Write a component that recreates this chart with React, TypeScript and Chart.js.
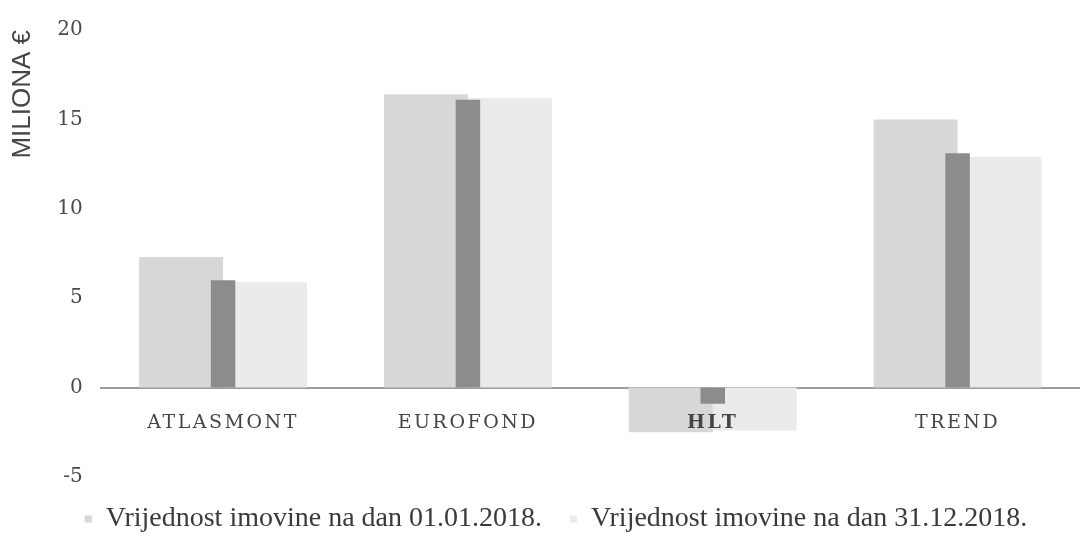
import React, { useEffect, useRef } from "react";
import { Chart, registerables } from "chart.js";

Chart.register(...registerables);

const categories = ["ATLASMONT", "EUROFOND", "HLT", "TREND"];
const start2018 = [7.3, 16.4, -2.5, 15.0];
const end2018 = [5.9, 16.2, -2.4, 12.9];
const change = [6.0, 16.1, -0.9, 13.1];
const legendLabels = ["Vrijednost imovine na dan 01.01.2018.", "Vrijednost imovine na dan 31.12.2018."];
const yTicks = [-5, 0, 5, 10, 15, 20];
const yTitle = "MILIONA €";

const letterSpacingPlugin = {
  id: "xTickLetterSpacing",
  afterLayout(chart: any) {
    if (chart.legend) {
      chart.legend.left += 14;
      chart.legend.right += 14;
    }
  },
  afterDatasetsDraw(chart: any) {
    chart.ctx.letterSpacing = "2.5px";
  },
  afterDraw(chart: any) {
    chart.ctx.letterSpacing = "0px";
  },
};

export default function App() {
  const ref = useRef<HTMLCanvasElement | null>(null);
  useEffect(() => {
    document.body.style.margin = "0";
    const canvas = ref.current!;
    const chart = new Chart(canvas, {
      type: "bar",
      plugins: [letterSpacingPlugin],
      data: {
        labels: categories,
        datasets: [
          {
            label: legendLabels[0],
            data: start2018,
            backgroundColor: "#d7d7d7",
            categoryPercentage: 0.686,
            barPercentage: 1,
            order: 2,
          },
          {
            label: legendLabels[1],
            data: end2018,
            backgroundColor: "#ebebeb",
            categoryPercentage: 0.686,
            barPercentage: 1,
            order: 2,
          },
          {
            label: "",
            data: change,
            backgroundColor: "#8c8c8c",
            grouped: false,
            categoryPercentage: 1,
            barPercentage: 0.1,
            order: 1,
          } as any,
        ],
      },
      options: {
        responsive: false,
        animation: false,
        layout: { padding: { top: 4, right: 0, left: 4, bottom: 0 } },
        plugins: {
          tooltip: { enabled: false },
          legend: {
            position: "bottom",
            labels: {
              filter: (item) => item.datasetIndex !== 2,
              boxWidth: 7,
              boxHeight: 7,
              padding: 28,
              color: "#3a3a3a",
              font: { family: "'Liberation Serif', serif", size: 28 },
            },
          },
        },
        scales: {
          x: {
            position: { y: 0 } as any,
            grid: { display: false, drawTicks: false },
            border: { display: true, color: "#9c9c9c", width: 2 },
            ticks: {
              z: 1,
              padding: 24,
              color: "#454545",
              font: (ctx: any) =>
                ctx.index === 2
                  ? { family: "'DejaVu Serif', serif", size: 19, weight: "bold" }
                  : { family: "'DejaVu Serif', serif", size: 19 },
            },
          },
          y: {
            min: -5,
            max: 20,
            afterBuildTicks: (scale: any) => {
              scale.ticks = yTicks.map((v) => ({ value: v }));
            },
            grid: { display: false, drawTicks: false },
            border: { display: false },
            ticks: {
              padding: 18,
              color: "#4a4a4a",
              font: { family: "'DejaVu Serif', serif", size: 20 },
            },
            title: {
              display: true,
              text: yTitle,
              align: "end",
              color: "#454545",
              font: { family: "'Liberation Sans', sans-serif", size: 26 },
              padding: { top: 3, bottom: 1 },
            },
          },
        },
      },
    });
    return () => chart.destroy();
  }, []);
  return (
    <div style={{ width: 1080, height: 543 }}>
      <canvas ref={ref} width={1080} height={543} />
    </div>
  );
}
